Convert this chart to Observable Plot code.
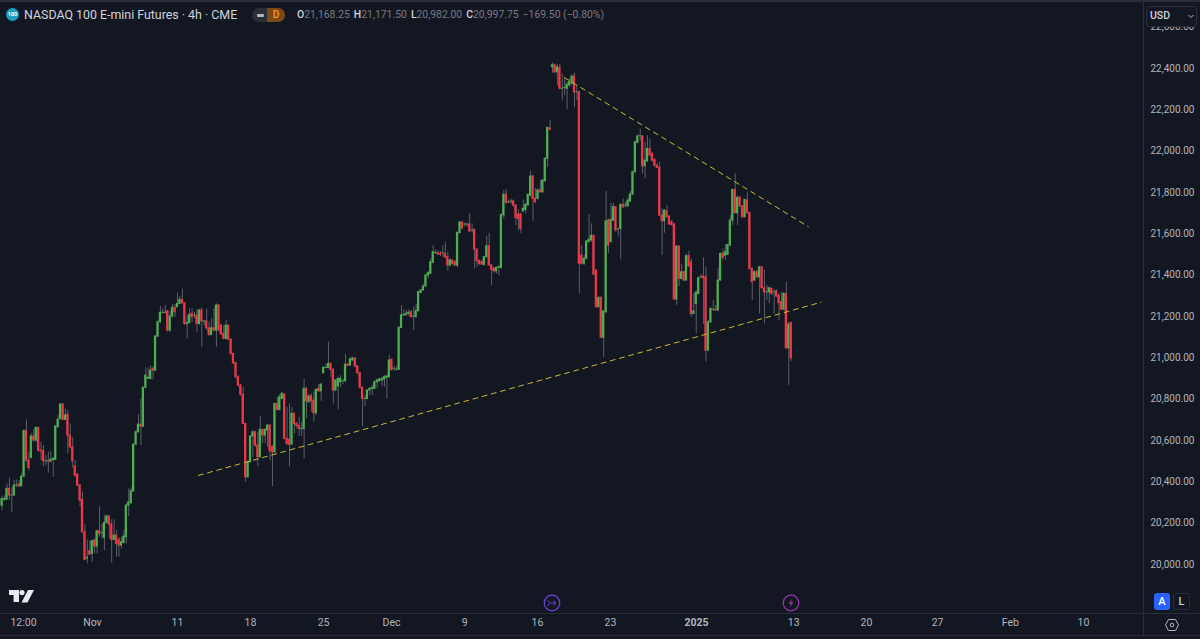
<!DOCTYPE html>
<html>
<head>
<meta charset="utf-8">
<script src="https://cdn.jsdelivr.net/npm/d3@7"></script>
<script src="https://cdn.jsdelivr.net/npm/@observablehq/plot@0.6"></script>
<style>
html,body{margin:0;padding:0;background:#131722;}
#wrap{position:relative;width:1200px;height:639px;overflow:hidden;background:#131722;font-family:Roboto,sans-serif;}
#chart{position:absolute;left:0;top:0;}
.abs{position:absolute;white-space:nowrap;}
.hl{background:#2a2e39;}
#ohlc b{color:#d1d4dc;font-weight:500;}
#ohlc span{margin-right:4px;}
</style>
</head>
<body>
<div id="wrap">
<div id="chart"></div>
<div class="abs hl" style="left:0;top:0;width:1200px;height:2px"></div>
<div class="abs hl" style="left:0;top:613px;width:1200px;height:1px"></div>
<div class="abs hl" style="left:0;top:635px;width:1200px;height:1px"></div>
<div class="abs hl" style="left:1143px;top:0;width:1px;height:636px"></div>
<div class="abs" style="left:6px;top:8px;width:13px;height:13px;border-radius:50%;background:#1e9ec4;color:#fff;font:700 5.5px/13px Roboto;text-align:center">100</div>
<div class="abs" id="title" style="left:24px;top:7px;font-size:12.4px;line-height:16px;color:#d1d4dc"></div>
<div class="abs" style="left:252px;top:8px;width:33px;height:14px;border-radius:7px;background:#2a2e39;overflow:hidden">
  <div class="abs" style="left:5px;top:5.5px;width:7px;height:3px;border-radius:1px;background:#b2b5be"></div>
  <div class="abs" style="left:15px;top:0;width:18px;height:14px;background:#7c4a16;color:#ff9a1f;font:500 10px/14px Roboto;text-align:center">D</div>
</div>
<div class="abs" id="ohlc" style="left:297px;top:8px;font-size:10.4px;line-height:14px;color:#787b86"></div>
<div class="abs" style="left:1146px;top:6px;width:49px;height:19px;border:1px solid #2a2e39;border-radius:3px;background:#131722;box-sizing:content-box">
  <div class="abs" style="left:3px;top:3px;font:500 10.5px/11px Roboto;color:#d1d4dc">USD</div>
  <svg class="abs" style="left:41px;top:7px" width="6" height="5"><path d="M0.5 1 L3 3.5 L5.5 1" fill="none" stroke="#b2b5be" stroke-width="1"/></svg>
</div>
<svg class="abs" style="left:9px;top:590px" width="25" height="13"><path d="M0 0H10V12H4.6V5H0Z M19 0H25L18.5 12.5H12.5Z" fill="#e8eaf0"/><circle cx="13" cy="2.6" r="2.6" fill="#e8eaf0"/></svg>
<svg class="abs" style="left:543px;top:594px" width="18" height="18"><circle cx="9" cy="9" r="7.8" fill="none" stroke="#6a43d8" stroke-width="1.2"/><path d="M4.5 6.5 L7.5 9 L4.5 11.5 M8 9H13 M10.5 6.5 L13 9 L10.5 11.5" fill="none" stroke="#6a43d8" stroke-width="1"/></svg>
<svg class="abs" style="left:782px;top:594px" width="18" height="18"><circle cx="9" cy="9" r="7.8" fill="none" stroke="#9a35a8" stroke-width="1.2"/><path d="M10.2 4.5 L6.5 9.8H9L7.8 13.5 L11.5 8.2H9Z" fill="#9a35a8"/></svg>
<div class="abs" style="left:1154px;top:593px;width:16px;height:17px;border-radius:3px;background:#2962ff;color:#fff;font:500 11px/17px Roboto;text-align:center">A</div>
<div class="abs" style="left:1173px;top:593px;width:15px;height:15px;border:1px solid #2a2e39;border-radius:3px;color:#d1d4dc;font:500 11px/15px Roboto;text-align:center">L</div>
<svg class="abs" style="left:1165px;top:618px" width="14" height="14"><path d="M3.5 1.5H10.5L13.5 7L10.5 12.5H3.5L0.5 7Z" fill="none" stroke="#b2b5be" stroke-width="1"/><circle cx="7" cy="7" r="1.8" fill="none" stroke="#b2b5be" stroke-width="1"/></svg>
</div>
<script>
const titleText = "NASDAQ 100 E-mini Futures · 4h · CME";
const ohlcLabels = [["O","21,168.25"],["H","21,171.50"],["L","20,982.00"],["C","20,997.75"]];
const changeText = "−169.50 (−0.80%)";

const opens = [
20285,20313,20313,20366,20334,20334,20382,20387,20379,20425,
20645,20503,20516,20619,20600,20661,20551,20548,20500,20500,
20498,20506,20506,20664,20704,20774,20700,20724,20624,20567,
20474,20435,20382,20313,20156,20029,20064,20051,20116,20087,
20161,20151,20129,20200,20232,20193,20119,20140,20119,20092,
20104,20132,20285,20296,20354,20580,20640,20677,20667,
20855,20898,20898,20947,20938,21103,21172,21218,21218,21224,
21132,21200,21242,21245,21261,21280,21264,21164,21168,21213,
21205,21205,21164,21229,21176,21176,21143,21111,21143,21132,
21253,21156,21116,21092,21156,21087,21019,20974,20906,20866,
20821,20680,20422,20495,20619,20640,20576,20519,20651,20624,
20648,20672,20568,20543,20777,20748,20801,20822,20608,20603,
20580,20729,20680,20671,20656,20656,20850,20785,20813,20793,20732,
20850,20838,20926,20951,20951,20971,20942,20842,20861,20882,
20887,20887,20967,20963,20987,20997,20958,20926,20855,20801,20801,
20842,20850,20850,20882,20887,20890,20895,20903,20906,20990,
20947,20943,20942,21145,21205,21208,21213,21221,21200,21197,
21226,21314,21326,21345,
21398,21406,21460,21508,21506,21503,21506,21503,21487,21447,
21471,21463,21447,21603,21655,21645,21645,21645,21616,21619,
21524,21468,21463,21450,21487,21540,21447,21431,21419,21435,
21435,21689,21789,21753,21756,21756,21737,21693,21693,21708,
21716,21737,21785,21877,21769,21769,21810,21801,21855,21963,
22110,22406,22416,22382,22403,22302,22306,22302,22318,22326,
22361,22285,22285,21495,21455,21479,21560,21568,21590,21422,
21245,21289,21097,21221,21664,
21560,21664,21729,21622,21624,21740,21737,21733,21756,21790,
21898,22040,22072,22072,21927,21951,22011,21987,21958,21930,
21919,21688,21661,21709,21683,21656,21645,21282,21538,21382,
21414,21374,21492,21462,21212,21261,21309,21390,21393,21390,
21035,21172,21233,21233,21229,21374,21503,21495,21498,21543,
21664,21812,21700,21774,21732,21680,21761,21700,21430,21374,
21414,21390,21438,21337,21317,21317,21333,21317,21322,21301,
21269,21233,21309,21046,21168
];
const highs = [
20329,20333,20390,20419,20371,20406,20409,20406,20438,20651,
20700,20543,20632,20651,20664,20664,20592,20575,20527,20543,
20548,20519,20672,20721,20780,20780,20753,20745,20680,20616,
20503,20438,20387,20350,20193,20119,20113,20116,20124,20167,
20280,20196,20237,20240,20237,20216,20216,20164,20132,20132,
20164,20293,20366,20371,20584,20648,20725,20801,20858,
20951,20951,20963,20958,21108,21180,21248,21237,21253,21229,
21226,21258,21258,21313,21297,21334,21264,21205,21237,21237,
21221,21232,21232,21242,21180,21237,21172,21188,21237,21261,
21258,21164,21156,21180,21156,21092,21022,20979,20914,20871,
20858,20684,20503,20624,20648,20645,20640,20716,20656,20656,
20677,20680,20576,20780,20809,20822,20834,20826,20761,20777,
20761,20732,20688,20713,20690,20898,20858,20822,20826,20834,20850,
20871,20874,20958,20967,21076,20974,20947,20893,20906,20914,
20895,21016,20971,21000,21003,21000,20963,20930,20858,20817,20845,
20855,20866,20887,20898,20901,20906,20914,20919,21011,20995,
20958,20958,21151,21253,21232,21229,21232,21229,21245,21258,
21321,21330,21355,21405,
21419,21479,21543,21522,21519,21514,21543,21560,21511,21479,
21474,21471,21608,21661,21661,21651,21651,21697,21648,21624,
21527,21474,21474,21490,21587,21603,21451,21439,21439,21447,
21697,21810,21813,21764,21769,21764,21742,21716,21700,21764,
21748,21793,21903,21882,21818,21818,21858,21861,21968,22116,
22148,22426,22422,22419,22419,22374,22350,22334,22350,22371,
22377,22318,22290,21543,21495,21568,21693,21648,21595,21426,
21297,21297,21229,21806,21672,
21748,21748,21732,21624,21745,21769,21753,21774,21806,21903,
22048,22080,22108,22075,22043,22075,22059,21995,21963,21938,
21946,21721,21716,21737,21688,21667,21651,21543,21543,21454,
21419,21503,21516,21479,21309,21325,21390,21403,21484,21438,
21180,21242,21277,21253,21430,21506,21527,21548,21551,21688,
21817,21893,21785,21780,21737,21769,21801,21704,21435,21422,
21422,21442,21442,21422,21350,21342,21342,21329,21329,21309,
21317,21317,21366,21172,21172
];
const lows = [
20261,20306,20313,20309,20253,20329,20371,20371,20374,20422,
20495,20451,20511,20592,20592,20543,20503,20474,20479,20442,
20490,20422,20503,20661,20700,20696,20696,20535,20559,20467,
20422,20377,20280,20151,20019,20003,20043,20011,20051,20051,
20132,20124,20067,20196,20124,20006,20116,20035,20035,20075,
20100,20100,20232,20293,20350,20575,20635,20575,20664,
20850,20895,20893,20893,20935,21097,21168,21213,21213,21124,
21124,21193,21197,21242,21258,21258,21156,21092,21164,21172,
21189,21124,21156,21051,21156,21132,21103,21108,21124,21051,
21124,21108,21087,21087,21084,21011,20967,20898,20858,20814,
20677,20398,20419,20490,20519,20567,20474,20516,20584,20584,
20567,20503,20377,20538,20742,20742,20797,20603,20576,20474,
20576,20632,20656,20619,20620,20511,20705,20780,20737,20688,20721,
20834,20790,20922,20947,20947,20906,20777,20838,20748,20858,
20870,20882,20958,20958,20984,20951,20919,20850,20667,20764,20797,
20817,20817,20845,20850,20882,20861,20858,20801,20903,20935,
20935,20935,20939,21140,21200,21200,21200,21193,21132,21193,
21221,21309,21322,21342,
21382,21403,21455,21500,21495,21490,21487,21479,21419,21439,
21447,21442,21435,21600,21619,21632,21632,21608,21603,21430,
21439,21447,21447,21442,21484,21442,21350,21409,21406,21398,
21430,21672,21745,21745,21742,21729,21640,21616,21600,21705,
21697,21732,21780,21661,21748,21764,21797,21797,21850,21922,
22100,22377,22374,22318,22297,22242,22269,22200,22310,22318,
22210,22245,21310,21447,21447,21474,21555,21560,21398,21242,
21242,21092,21003,21213,21506,
21556,21661,21608,21584,21474,21721,21725,21729,21753,21785,
21893,22035,22048,21890,21866,21946,21974,21946,21922,21914,
21685,21495,21603,21677,21640,21635,21277,21253,21345,21377,
21366,21371,21438,21196,21209,21116,21306,21382,21161,20979,
21032,21167,21225,21225,21225,21371,21471,21471,21495,21538,
21640,21697,21640,21729,21677,21677,21697,21425,21277,21371,
21382,21212,21333,21164,21277,21261,21301,21212,21293,21180,
21229,21229,21043,20866,20982
];
const closes = [
20317,20317,20366,20334,20334,20382,20382,20379,20425,20645,
20503,20467,20619,20600,20661,20551,20548,20500,20500,20498,
20506,20511,20667,20700,20774,20700,20721,20624,20567,20500,
20430,20382,20309,20156,20022,20032,20048,20113,20087,20161,
20148,20151,20200,20232,20193,20119,20140,20100,20092,20108,
20135,20285,20301,20354,20580,20640,20677,20667,20855,
20914,20903,20938,20938,21103,21172,21218,21218,21218,21132,
21200,21242,21221,21261,21280,21264,21164,21168,21208,21197,
21205,21164,21229,21176,21176,21143,21111,21143,21132,21253,
21132,21113,21092,21156,21087,21019,20974,20906,20866,20821,
20680,20422,20495,20619,20640,20576,20519,20651,20624,20651,
20672,20548,20543,20777,20748,20809,20826,20608,20584,20580,
20729,20680,20671,20656,20656,20850,20790,20813,20790,20732,20845,
20838,20871,20951,20951,20971,20942,20842,20890,20898,20898,
20887,20967,20961,20992,20997,20958,20926,20855,20801,20801,20842,
20850,20855,20882,20890,20895,20897,20906,20909,20987,20942,
20947,20943,21145,21205,21208,21213,21218,21197,21200,21226,
21318,21326,21345,21398,
21410,21463,21511,21508,21500,21500,21506,21487,21447,21471,
21455,21447,21605,21655,21627,21645,21645,21611,21616,21524,
21468,21455,21451,21487,21540,21447,21426,21419,21435,21439,
21690,21789,21748,21753,21756,21737,21676,21672,21624,21721,
21740,21789,21877,21769,21753,21810,21801,21858,21963,22113,
22103,22416,22382,22406,22302,22302,22306,22321,22334,22361,
22285,22285,21455,21455,21479,21563,21571,21590,21403,21245,
21289,21097,21224,21661,21543,
21667,21729,21616,21622,21740,21729,21737,21761,21790,21898,
22043,22071,22072,21927,21954,22011,21979,21954,21930,21919,
21688,21661,21712,21680,21645,21643,21282,21538,21382,21414,
21374,21492,21443,21212,21225,21314,21385,21390,21385,21035,
21172,21237,21233,21229,21374,21503,21484,21511,21546,21664,
21812,21700,21774,21732,21680,21764,21700,21430,21366,21414,
21390,21438,21337,21317,21317,21337,21309,21317,21296,21264,
21233,21309,21046,21161,20998
];

const tickBars = [8.8,37.1,72,102,132,159.9,189.9,219.8,249.8,325,354.9,384.1,414,444];
const tickLabels = ["12:00","Nov","11","18","25","Dec","9","16","23","13","20","27","Feb","10"];
const yearBar = [285.1];
const yearLabel = "2025";
const priceTicks = [20000,20200,20400,20600,20800,21000,21200,21400,21600,21800,22000,22200,22400,22600];

const supportBars = [80.6,336.3];
const supportPrices = [20431,21269];
const resistanceBars = [230.9,331];
const resistancePrices = [22356,21635];

const n = Math.min(opens.length, highs.length, lows.length, closes.length);
const candles = d3.range(n).map(i => ({i, o:opens[i], h:highs[i], l:lows[i], c:closes[i]}));
const support = supportBars.map((b,k)=>({b, p:supportPrices[k]}));
const resistance = resistanceBars.map((b,k)=>({b, p:resistancePrices[k]}));

document.getElementById("title").textContent = titleText;
document.getElementById("ohlc").innerHTML = ohlcLabels.map(([a,b])=>`<span><b>${a}</b>${b}</span>`).join("") + changeText;

const tickMap = new Map(tickBars.map((b,k)=>[b,tickLabels[k]]));
const axisFont = {fontSize:10.5, fill:"#b2b5be", tickSize:0};

const chart = Plot.plot({
  width:1200, height:639,
  marginLeft:0, marginRight:56, marginTop:0, marginBottom:26,
  style:{background:"#131722", fontFamily:"Roboto, sans-serif"},
  x:{type:"linear", domain:[-0.657,469.06]},
  y:{type:"linear", domain:[19763,22729]},
  marks:[
    Plot.axisY({anchor:"right", ticks:priceTicks, tickFormat:d=>d3.format(",.2f")(d), tickSize:0, tickPadding:6, label:null, fontSize:10, letterSpacing:"-0.4px", fill:"#b2b5be"}),
    Plot.axisX({anchor:"bottom", ticks:tickBars, tickFormat:d=>tickMap.get(d), tickPadding:5, label:null, ...axisFont}),
    Plot.axisX({anchor:"bottom", ticks:yearBar, tickFormat:()=>yearLabel, tickPadding:5, label:null, fontWeight:700, ...axisFont}),
    Plot.ruleX(candles,{x:"i", y1:"l", y2:"h", stroke:"#5c5f6b", strokeWidth:1, clip:true}),
    Plot.rect(candles,{x1:d=>d.i-0.46, x2:d=>d.i+0.46, y1:"o", y2:"c", fill:d=>d.c>=d.o?"#4caf50":"#f23645", insetTop:-0.5, insetBottom:-0.5, clip:true}),
    Plot.line(support,{x:"b", y:"p", stroke:"#cdb83a", strokeWidth:1, strokeDasharray:"5,4.5"}),
    Plot.line(resistance,{x:"b", y:"p", stroke:"#cdb83a", strokeWidth:1, strokeDasharray:"5,4.5"})
  ]
});
document.getElementById("chart").appendChild(chart);
</script>
</body>
</html>
